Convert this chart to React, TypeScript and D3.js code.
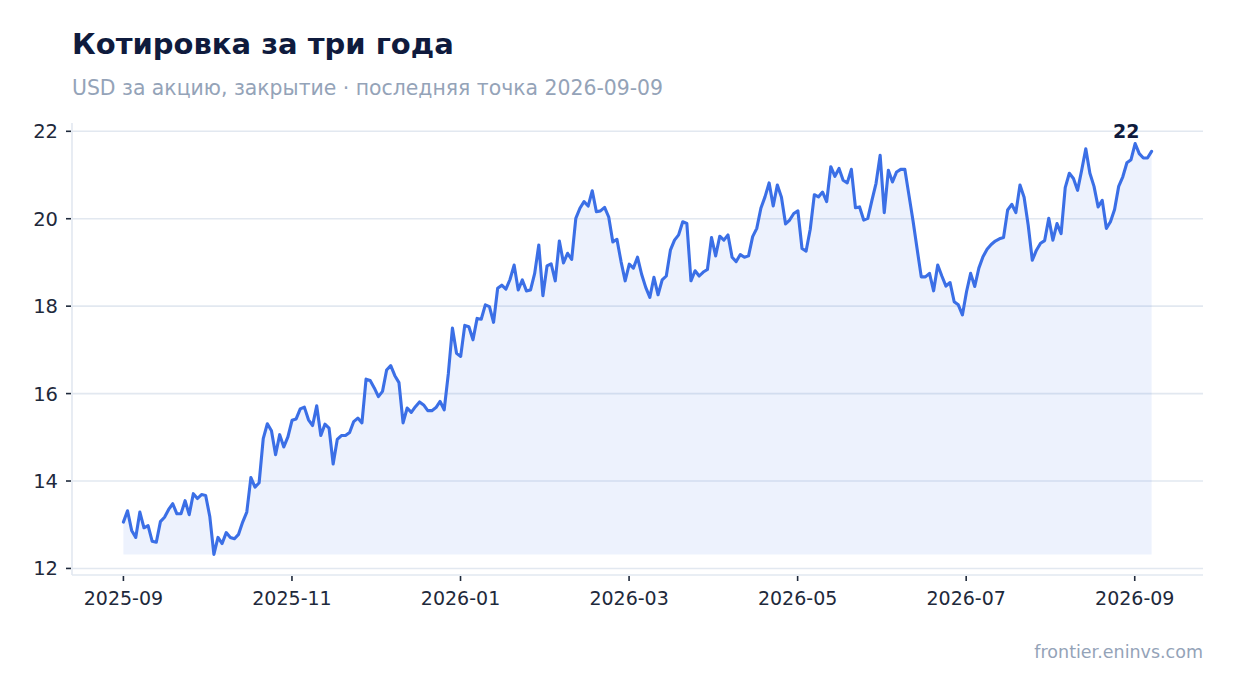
import React from 'react';
import * as d3 from 'd3';

// closing price, USD per share, one value per trading session
const prices: number[] = [
  13.06, 13.32, 12.87, 12.71, 13.29, 12.93, 12.98, 12.62, 12.60, 13.07,
  13.17, 13.35, 13.48, 13.25, 13.25, 13.55, 13.23, 13.71, 13.60, 13.69,
  13.67, 13.19, 12.32, 12.71, 12.57, 12.82, 12.71, 12.68, 12.78, 13.06,
  13.29, 14.08, 13.86, 13.96, 14.97, 15.31, 15.15, 14.60, 15.06, 14.78,
  15.01, 15.39, 15.42, 15.65, 15.69, 15.40, 15.27, 15.72, 15.04, 15.30,
  15.21, 14.39, 14.95, 15.04, 15.04, 15.11, 15.36, 15.44, 15.33, 16.33,
  16.30, 16.13, 15.93, 16.05, 16.54, 16.64, 16.41, 16.25, 15.33, 15.67,
  15.57, 15.70, 15.81, 15.74, 15.61, 15.61, 15.68, 15.82, 15.63, 16.45,
  17.50, 16.92, 16.85, 17.56, 17.53, 17.23, 17.72, 17.70, 18.03, 17.99,
  17.63, 18.41, 18.48, 18.39, 18.61, 18.94, 18.37, 18.60, 18.35, 18.37,
  18.75, 19.40, 18.24, 18.92, 18.97, 18.58, 19.49, 18.99, 19.21, 19.07,
  20.01, 20.24, 20.39, 20.29, 20.64, 20.16, 20.18, 20.26, 20.04, 19.47,
  19.53, 19.02, 18.58, 18.96, 18.87, 19.12, 18.73, 18.43, 18.20, 18.66,
  18.26, 18.60, 18.69, 19.28, 19.51, 19.63, 19.93, 19.89, 18.58, 18.81,
  18.69, 18.78, 18.84, 19.57, 19.15, 19.60, 19.51, 19.63, 19.12, 19.02,
  19.18, 19.12, 19.15, 19.59, 19.78, 20.24, 20.50, 20.82, 20.29, 20.77,
  20.49, 19.88, 19.97, 20.12, 20.18, 19.32, 19.26, 19.76, 20.55, 20.50,
  20.61, 20.39, 21.19, 20.97, 21.15, 20.88, 20.82, 21.13, 20.25, 20.27,
  19.97, 20.01, 20.42, 20.81, 21.45, 20.14, 21.11, 20.84, 21.07, 21.13,
  21.13, 20.54, 19.95, 19.30, 18.67, 18.67, 18.75, 18.35, 18.94, 18.69,
  18.46, 18.54, 18.10, 18.03, 17.80, 18.33, 18.75, 18.45, 18.87, 19.13,
  19.30, 19.41, 19.49, 19.54, 19.57, 20.20, 20.33, 20.14, 20.77, 20.49,
  19.85, 19.05, 19.28, 19.44, 19.50, 20.01, 19.51, 19.89, 19.66, 20.71,
  21.04, 20.92, 20.65, 21.11, 21.60, 21.04, 20.74, 20.27, 20.42, 19.78,
  19.93, 20.21, 20.74, 20.96, 21.28, 21.35, 21.72, 21.49, 21.39, 21.39,
  21.54,
];
const firstDate = '2025-09-01';
const lastDate = '2026-09-07';
const xTickLabels = ['2025-09', '2025-11', '2026-01', '2026-03', '2026-05', '2026-07', '2026-09'];
const yTicks = [12, 14, 16, 18, 20, 22];

const W = 1234;
const H = 693;
const plot = { left: 72, right: 1203, top: 123, bottom: 575 };
const FONT = '"DejaVu Sans", sans-serif';

const parseDay = d3.timeParse('%Y-%m-%d');
const parseMonth = d3.timeParse('%Y-%m');

// position of a date in months since the first month (months are equal width on the axis)
const start = parseDay(firstDate)!;
const monthPos = (d: Date) => {
  const m0 = d3.timeMonth.floor(d);
  const m1 = d3.timeMonth.offset(m0, 1);
  return d3.timeMonth.count(start, m0) + (d.getTime() - m0.getTime()) / (m1.getTime() - m0.getTime());
};

const App: React.FC = () => {
  const span = monthPos(parseDay(lastDate)!);
  const data = prices.map((v, i) => ({ pos: (span * i) / (prices.length - 1), value: v }));

  // 5% margins on both axes
  const x = d3.scaleLinear()
    .domain([-span * 0.05, span * 1.05])
    .range([plot.left, plot.right]);

  const [vMin, vMax] = d3.extent(prices) as [number, number];
  const padY = (vMax - vMin) * 0.05;
  const y = d3.scaleLinear()
    .domain([vMin - padY, vMax + padY])
    .range([plot.bottom, plot.top]);

  const line = d3.line<{ pos: number; value: number }>()
    .x(d => x(d.pos))
    .y(d => y(d.value));

  const area = d3.area<{ pos: number; value: number }>()
    .x(d => x(d.pos))
    .y0(y(vMin))
    .y1(d => y(d.value));

  const maxPoint = data[d3.maxIndex(data, d => d.value)];

  return (
    <>
      <style>{'body{margin:0}'}</style>
      <svg width={W} height={H} viewBox={`0 0 ${W} ${H}`} style={{ display: 'block', fontFamily: FONT }}>
        <rect width={W} height={H} fill="#ffffff" />

        <text x={72} y={54} fontSize={29} fontWeight="bold" fill="#0f1b3d">Котировка за три года</text>
        <text x={72} y={94.5} fontSize={20.4} fill="#94a3b8">USD за акцию, закрытие · последняя точка 2026-09-09</text>

        {/* grid */}
        {yTicks.map(t => (
          <line key={`g${t}`} x1={plot.left} x2={plot.right} y1={y(t)} y2={y(t)} stroke="#e2e8f0" strokeWidth={1.6} />
        ))}

        {/* spines */}
        <line x1={plot.left} x2={plot.left} y1={plot.top} y2={plot.bottom} stroke="#e2e8f0" strokeWidth={1.6} />
        <line x1={plot.left} x2={plot.right} y1={plot.bottom} y2={plot.bottom} stroke="#e2e8f0" strokeWidth={1.6} />

        <path d={area(data) ?? ''} fill="#3b6fe6" fillOpacity={0.09} />
        <path d={line(data) ?? ''} fill="none" stroke="#3b6fe6" strokeWidth={3.1} strokeLinejoin="round" strokeLinecap="round" />

        {/* y axis */}
        {yTicks.map(t => (
          <g key={`y${t}`} transform={`translate(0,${y(t)})`}>
            <line x1={plot.left - 6} x2={plot.left - 1} stroke="#1e293b" strokeWidth={1.6} />
            <text x={plot.left - 14} dy="0.36em" textAnchor="end" fontSize={19.5} fill="#1e293b">{t}</text>
          </g>
        ))}

        {/* x axis */}
        {xTickLabels.map(lbl => {
          const px = x(monthPos(parseMonth(lbl)!));
          return (
            <g key={lbl} transform={`translate(${px},${plot.bottom})`}>
              <line y1={1} y2={6} stroke="#1e293b" strokeWidth={1.6} />
              <text y={30} textAnchor="middle" fontSize={19} fill="#1e293b">{lbl}</text>
            </g>
          );
        })}

        <text x={x(maxPoint.pos) - 9} y={y(maxPoint.value) - 6} textAnchor="middle" fontSize={19} fontWeight="bold" fill="#0f1b3d">
          {Math.round(maxPoint.value)}
        </text>

        <text x={plot.right} y={658} textAnchor="end" fontSize={17.5} fill="#94a3b8">frontier.eninvs.com</text>
      </svg>
    </>
  );
};

export default App;
